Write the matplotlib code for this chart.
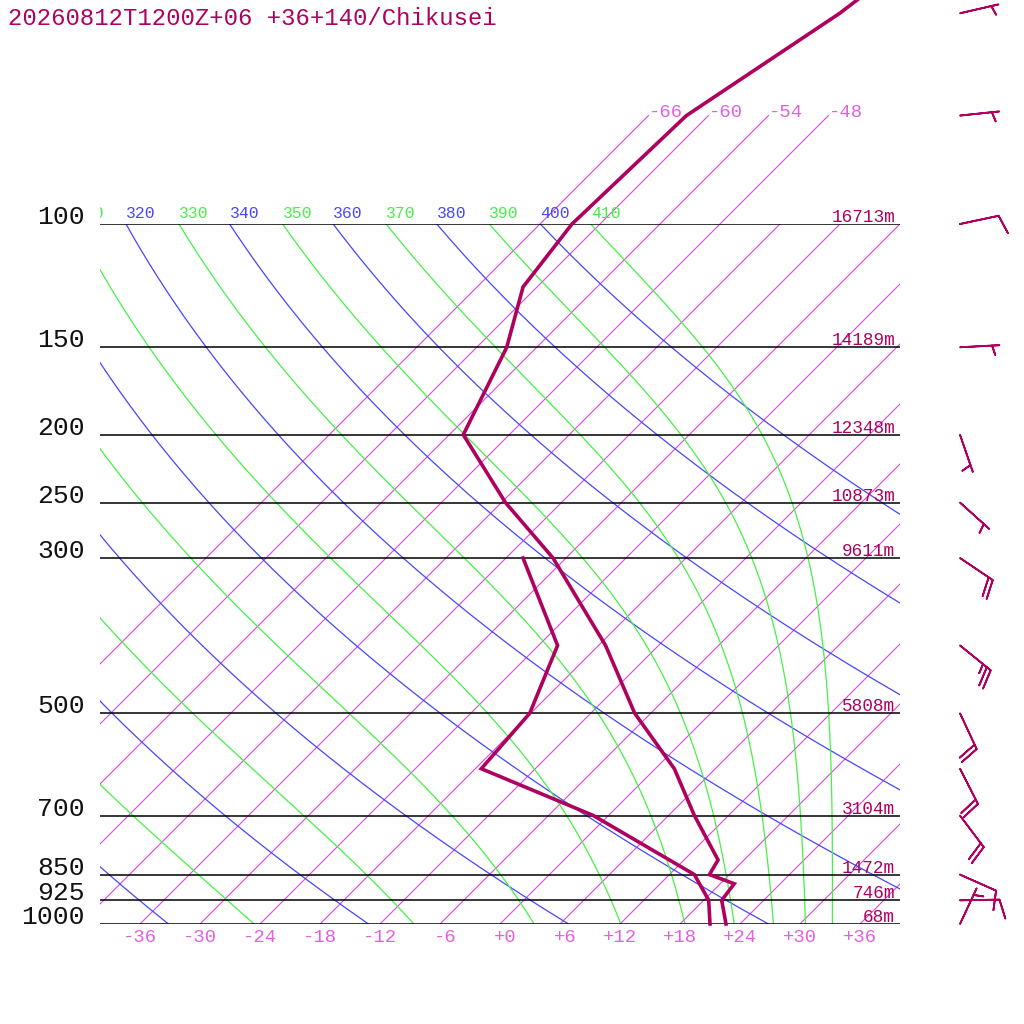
import numpy as np
import matplotlib
matplotlib.use("Agg")
import matplotlib.pyplot as plt
import matplotlib.transforms as mtransforms
from matplotlib.patches import Rectangle

# ---------------- data ----------------
TITLE = "20260812T1200Z+06 +36+140/Chikusei"

# temperature profile (hPa, degC)
t_pres = [1000, 925, 876, 850, 810, 700, 600, 500, 400, 300, 250, 200, 150, 123, 100, 70, 50, 30]
t_temp = [22.6, 19.8, 19.4, 16.0, 15.4, 8.6, 1.9, -7.6, -17.3, -31.3, -41.6, -52.6, -57.0, -61.4, -62.8, -62.2, -57.1, -52.3]

# dew point profile (hPa, degC)
td_pres = [1000, 925, 850, 700, 600, 500, 400, 300]
td_temp = [21.0, 18.5, 14.5, -1.5, -17.4, -18.1, -22.1, -34.3]

# labelled isobars and their heights
lev_pres = [100, 150, 200, 250, 300, 500, 700, 850, 925, 1000]
lev_hgt = ["16713m", "14189m", "12348m", "10873m", "9611m", "5808m", "3104m", "1472m", "746m", "68m"]

# winds (hPa, direction deg, speed kt)
wind_pres = [50, 70, 100, 150, 200, 250, 300, 400, 500, 600, 700, 850, 925, 1000]
wind_dir = [77, 84, 78, 87, 161, 132, 124, 129, 155, 153, 143, 114, 89, 25]
wind_spd = [5, 5, 10, 5, 5, 5, 20, 25, 20, 20, 20, 10, 10, 5]

# background lines
isotherms = list(range(-66, 37, 6))
upper_isotherms = [-66, -60, -54, -48]
dry_thetas = list(range(240, 401, 20))
moist_thetaes = list(range(250, 411, 20))
temp_ticks = list(range(-36, 37, 6))

# ---------------- styles ----------------
C_PROF = "#b0005e"
C_ISO = "#d64cd6"
C_ISO_TXT = "#e060e0"
C_DRY = "#4646ff"
C_MOIST = "#46f046"
FONT = "Liberation Mono"

fig = plt.figure(figsize=(10.24, 10.24), dpi=100)
fig.patch.set_facecolor("white")
ax = fig.add_axes([100 / 1024, 100 / 1024, 800 / 1024, 700 / 1024])
ax.set_yscale("log")
ax.set_ylim(1000, 100)
ax.set_xlim(-40, 40)
ax.set_autoscale_on(False)
ax.axis("off")

SKEW = 700 / 800  # skew: 45 degrees on screen
skew = mtransforms.Affine2D().skew(np.arctan(SKEW), 0)
skew_tr = ax.transScale + (ax.transLimits + skew) + ax.transAxes
blend = mtransforms.blended_transform_factory(ax.transAxes, ax.transData)
X0, X1 = ax.get_xlim()
SHIFT_TOP = SKEW * (X1 - X0)  # skew shift (degC) at the top isobar

p_full = np.logspace(3, 2, 300)

# isotherms
for t in isotherms:
    ax.plot([t, t], [1000, 100], color=C_ISO, lw=0.8, transform=skew_tr)
for t in upper_isotherms:
    ax.plot([t, t], [100, 70], color=C_ISO, lw=0.8, transform=skew_tr, clip_on=False)
    ax.text(t, 70, "%+d" % t if t > 0 else "%d" % t, color=C_ISO_TXT, fontsize=13.6,
            family=FONT, ha="left", va="baseline",
            transform=skew_tr + mtransforms.Affine2D().translate(0, -1))

# clip region for the adiabat labels: plot width, extended above the top
label_clip = Rectangle((0, 0), 1, 1.3, transform=ax.transAxes, visible=False)
ax.add_patch(label_clip)
lab_tr = skew_tr + mtransforms.Affine2D().translate(0, 6)


def add_label(x, text, color):
    # skip labels that would lie completely left of the plot
    if x + SHIFT_TOP < X0 - 3.0:
        return
    txt = ax.text(x, 100, text, color=color, fontsize=11.8, family=FONT,
                  ha="left", va="baseline", transform=lab_tr)
    txt.set_clip_on(True)
    txt.set_clip_path(label_clip)


# dry adiabats
KAPPA = 0.2857
for th in dry_thetas:
    tc = th * (p_full / 1000.0) ** KAPPA - 273.15
    ax.plot(tc, p_full, color=C_DRY, lw=0.9, transform=skew_tr)
    add_label(tc[-1], "%d" % th, C_DRY)


# pseudo-adiabats (Bolton theta-e)
def esat(tc):
    return 6.112 * np.exp(17.67 * tc / (tc + 243.5))


def thetae_sat(tk, p):
    e = esat(tk - 273.15)
    r = 0.622 * e / (p - e)
    rg = r * 1000.0
    return tk * (1000.0 / p) ** (0.2854 * (1 - 0.28 * r)) * np.exp((3.376 / tk - 0.00254) * rg * (1 + 0.81e-3 * rg))


def moist_temp(the, p):
    lo = np.full_like(p, 140.0)
    hi = np.minimum(the * (p / 1000.0) ** 0.2854, 320.0)
    for _ in range(60):
        mid = 0.5 * (lo + hi)
        f = thetae_sat(mid, p) - the
        hi = np.where(f > 0, mid, hi)
        lo = np.where(f > 0, lo, mid)
    return 0.5 * (lo + hi) - 273.15


for the in moist_thetaes:
    tc = moist_temp(float(the), p_full)
    ax.plot(tc, p_full, color=C_MOIST, lw=0.9, transform=skew_tr)
    add_label(tc[-1], "%d" % the, C_MOIST)

# isobars
for p in lev_pres:
    ax.axhline(p, color="black", lw=1.1)

# profiles
ax.plot(t_temp, t_pres, color=C_PROF, lw=2.6, transform=skew_tr, clip_on=False,
        solid_joinstyle="miter")
ax.plot(td_temp, td_pres, color=C_PROF, lw=2.6, transform=skew_tr, clip_on=False,
        solid_joinstyle="miter")

# pressure labels and heights
for p, h in zip(lev_pres, lev_hgt):
    ax.text(-15 / 800, p, "%d" % p, color="#111111", fontsize=19, family=FONT,
            ha="right", va="baseline", transform=blend)
    ax.text(795 / 800, p, h, color=C_PROF, fontsize=12.8, family=FONT,
            ha="right", va="baseline",
            transform=blend + mtransforms.Affine2D().translate(0, 2))

# bottom temperature labels
bot_tr = mtransforms.offset_copy(ax.transData, fig=fig, x=17, y=-18, units="dots")
for t in temp_ticks:
    ax.text(t, 1000, ("%+d" % t) if t >= 0 else ("%d" % t), color=C_ISO_TXT,
            fontsize=13.6, family=FONT, ha="right", va="baseline", transform=bot_tr)

# wind barbs
d = np.deg2rad(np.array(wind_dir, dtype=float))
s = np.array(wind_spd, dtype=float)
u = -s * np.sin(d)
v = -s * np.cos(d)
ax.barbs(np.full(len(wind_pres), 860 / 800), wind_pres, u, v, transform=blend,
         length=7.54, sizes=dict(height=0.48, width=0.28, spacing=0.125),
         barbcolor=C_PROF, flagcolor=C_PROF, linewidth=1.3, clip_on=False)

fig.text(8 / 1024, 1 - 25 / 1024, TITLE, color=C_PROF, fontsize=17.2, family=FONT,
         ha="left", va="baseline")

fig.savefig("out.png", dpi=100, facecolor="white")
